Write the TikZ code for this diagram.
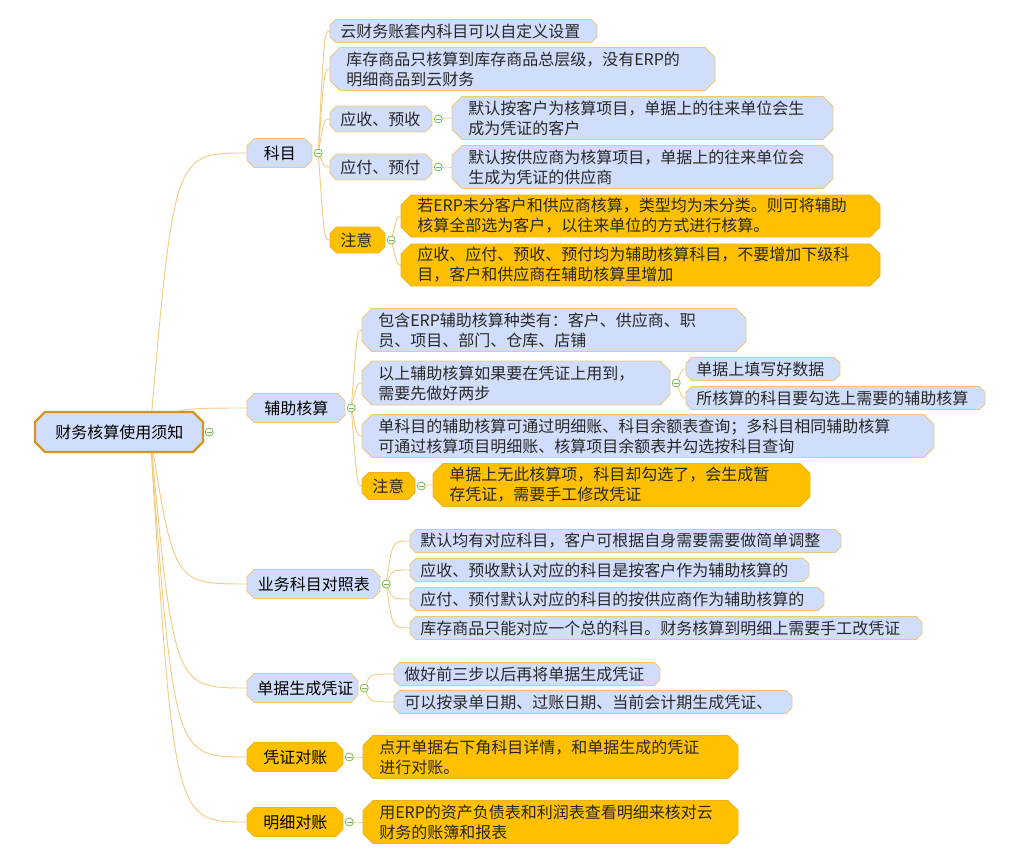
\documentclass[tikz,border=0pt]{standalone}
\usepackage{fontspec}
\setmainfont{Noto Sans CJK SC}
\usetikzlibrary{positioning,calc,backgrounds}

\definecolor{boxblue}{RGB}{209,222,251}
\definecolor{boxline}{RGB}{236,200,128}
\definecolor{boxorange}{RGB}{255,192,0}
\definecolor{orangeline}{RGB}{238,178,30}
\definecolor{rootline}{RGB}{214,150,30}
\definecolor{branchline}{RGB}{242,204,130}
\definecolor{toggreen}{RGB}{120,185,80}
\definecolor{textgray}{RGB}{40,40,40}

\tikzset{
  bluebox/.style={fill=boxblue, draw=boxline, line width=.6pt},
  orangebox/.style={fill=boxorange, draw=orangeline, line width=.6pt},
  rootbox/.style={fill=boxblue, draw=rootline, line width=1.6pt},
  boxtext/.style={inner sep=0pt, font=\fontsize{12}{15}\selectfont, text=textgray, align=left},
  branch/.style={draw=branchline, line width=.7pt},
  tog/.style={circle, draw=toggreen, fill=white, inner sep=0pt, minimum size=6pt, line width=.6pt,
    path picture={\draw[toggreen, line width=.6pt] ([xshift=-1.8pt]path picture bounding box.center) -- ([xshift=1.8pt]path picture bounding box.center);}},
}

% [node options]{box style}{name}{x}{y}{width}{height}{text}, sizes in px
\newcommand\mmbox[8][]{%
  \pgfmathsetmacro\mmc{min(10,#7/4)}%
  \pgfmathsetmacro\mmpad{#7<30 ? 10 : 16}%
  \pgfmathsetlengthmacro\mmw{#6*.75pt}%
  \pgfmathsetlengthmacro\mmh{#7*.75pt}%
  \pgfmathsetlengthmacro\mmtw{(#6-2*\mmpad)*.75pt}%
  \path[#2] (#4,#5) ++(0,-#7/2+\mmc) -- ++(\mmc,-\mmc) -- ++(#6-2*\mmc,0) -- ++(\mmc,\mmc)
    -- ++(0,#7-2*\mmc) -- ++(-\mmc,\mmc) -- ++(-#6+2*\mmc,0) -- ++(-\mmc,-\mmc) -- cycle;
  \node[boxtext, minimum width=\mmw, minimum height=\mmh, text width=\mmtw, anchor=west, #1] (#3) at (#4,#5) {#8};
}

\begin{document}
\begin{tikzpicture}[x=.75pt,y=-.75pt]
\useasboundingbox (0,0) rectangle (1022,857);

\mmbox[align=center, text=black]{rootbox}{root}{35}{432}{168}{40}{财务核算使用须知}

\mmbox[align=center, text=black]{bluebox}{kemu}{247}{153}{65}{29}{科目}
\mmbox[align=center, text=black]{bluebox}{fuzhu}{247}{408}{98}{29}{辅助核算}
\mmbox[align=center, text=black]{bluebox}{duizhao}{247}{584}{133}{29}{业务科目对照表}
\mmbox[align=center, text=black]{bluebox}{shengcheng}{247}{688}{111}{29}{单据生成凭证}
\mmbox[align=center, text=black]{orangebox}{pzdz}{247}{757}{96}{29}{凭证对账}
\mmbox[align=center, text=black]{orangebox}{mxdz}{247}{822}{96}{29}{明细对账}

% 科目
\mmbox{bluebox}{k1}{330}{31}{267}{23}{云财务账套内科目可以自定义设置}
\mmbox{bluebox}{k2}{330}{69}{385}{43}{库存商品只核算到库存商品总层级，没有ERP的\\明细商品到云财务}
\mmbox{bluebox}{k3}{330}{119}{102}{26}{应收、预收}
\mmbox{bluebox}{k4}{330}{167}{102}{26}{应付、预付}
\mmbox{orangebox}{k5}{330}{240}{55}{26}{注意}
\mmbox{bluebox}{k3a}{452}{118}{381}{43}{默认按客户为核算项目，单据上的往来单位会生\\成为凭证的客户}
\mmbox{bluebox}{k4a}{452}{167}{381}{43}{默认按供应商为核算项目，单据上的往来单位会\\生成为凭证的供应商}
\mmbox{orangebox}{k5a}{401}{216}{479}{42}{若ERP未分客户和供应商核算，类型均为未分类。则可将辅助\\核算全部选为客户，以往来单位的方式进行核算。}
\mmbox{orangebox}{k5b}{401}{265}{479}{42}{应收、应付、预收、预付均为辅助核算科目，不要增加下级科\\目，客户和供应商在辅助核算里增加}

% 辅助核算
\mmbox{bluebox}{f1}{362}{330}{384}{43}{包含ERP辅助核算种类有：客户、供应商、职\\员、项目、部门、仓库、店铺}
\mmbox{bluebox}{f2}{362}{383}{308}{44}{以上辅助核算如果要在凭证上用到，\\需要先做好两步}
\mmbox{bluebox}{f2a}{686}{369}{154}{23}{单据上填写好数据}
\mmbox{bluebox}{f2b}{686}{398}{299}{23}{所核算的科目要勾选上需要的辅助核算}
\mmbox{bluebox}{f3}{362}{436}{572}{43}{单科目的辅助核算可通过明细账、科目余额表查询；多科目相同辅助核算\\可通过核算项目明细账、核算项目余额表并勾选按科目查询}
\mmbox{orangebox}{f4}{362}{486}{53}{27}{注意}
\mmbox{orangebox}{f4a}{433}{485}{377}{43}{单据上无此核算项，科目却勾选了，会生成暂\\存凭证，需要手工修改凭证}

% 业务科目对照表
\mmbox{bluebox}{d1}{410}{541}{431}{23}{默认均有对应科目，客户可根据自身需要需要做简单调整}
\mmbox{bluebox}{d2}{410}{570}{399}{23}{应收、预收默认对应的科目是按客户作为辅助核算的}
\mmbox{bluebox}{d3}{410}{599}{414}{23}{应付、预付默认对应的科目的按供应商作为辅助核算的}
\mmbox{bluebox}{d4}{410}{628}{512}{23}{库存商品只能对应一个总的科目。财务核算到明细上需要手工改凭证}

% 单据生成凭证, 对账
\mmbox{bluebox}{s1}{394}{674}{266}{23}{做好前三步以后再将单据生成凭证}
\mmbox{bluebox}{s2}{394}{702}{398}{23}{可以按录单日期、过账日期、当前会计期生成凭证、}
\mmbox{orangebox}{p1}{363}{757}{375}{43}{点开单据右下角科目详情，和单据生成的凭证\\进行对账。}
\mmbox{orangebox}{m1}{363}{822}{375}{43}{用ERP的资产负债表和利润表查看明细来核对云\\财务的账簿和报表}

\foreach \n in {root,kemu,k3,k4,k5,fuzhu,f2,f4,duizhao,shengcheng,pzdz,mxdz}
  \node[tog, right=1pt of \n] (t\n) {};

\begin{scope}[on background layer]
\coordinate (rootc) at (150,432);
\foreach \n in {kemu,fuzhu,duizhao,shengcheng,pzdz,mxdz}
  \draw[branch] (rootc) .. controls ($(rootc|-\n.west)+(24,0)$) .. (\n.west);
\foreach \t/\c in {tkemu/k1,tkemu/k2,tkemu/k3,tkemu/k4,tkemu/k5,tk3/k3a,tk4/k4a,tk5/k5a,tk5/k5b,
    tfuzhu/f1,tfuzhu/f2,tfuzhu/f3,tfuzhu/f4,tf2/f2a,tf2/f2b,tf4/f4a,
    tduizhao/d1,tduizhao/d2,tduizhao/d3,tduizhao/d4,tshengcheng/s1,tshengcheng/s2,tpzdz/p1,tmxdz/m1}
  \draw[branch] (\t) .. controls ($(\t|-\c.west)+(6,0)$) .. (\c.west);
\end{scope}
\end{tikzpicture}
\end{document}
